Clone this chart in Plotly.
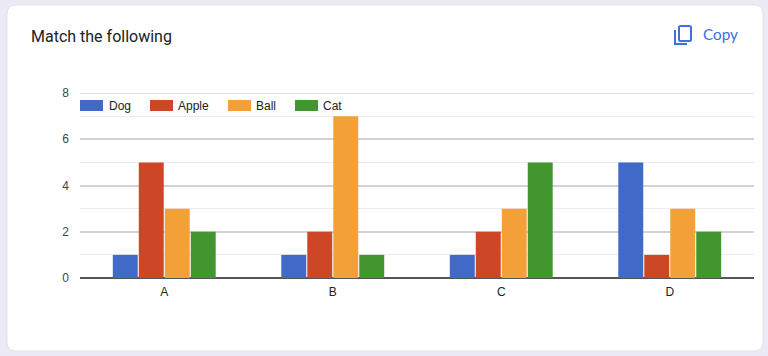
import plotly.graph_objects as go

categories = ["A", "B", "C", "D"]
dog = [1, 1, 1, 5]
apple = [5, 2, 2, 1]
ball = [3, 7, 3, 3]
cat = [2, 1, 5, 2]
names = ["Dog", "Apple", "Ball", "Cat"]
colors = ["#4169C8", "#CD4727", "#F3A038", "#43962F"]
y_ticks = [0, 2, 4, 6, 8]

W, H = 768, 356
L, R, T, B = 80, 754, 93, 278


def px(x):
    return (x - L) / (R - L)


def py(y):
    return (B - y) / (B - T)


def rounded(x0, y0, x1, y1, r):
    p = [
        (x0 + r, y0), (x1 - r, y0), (x1, y0, x1, y0 + r),
        (x1, y1 - r), (x1, y1, x1 - r, y1), (x0 + r, y1),
        (x0, y1, x0, y1 - r), (x0, y0 + r), (x0, y0, x0 + r, y0),
    ]
    s = f"M{px(p[0][0])},{py(p[0][1])}"
    for q in p[1:]:
        if len(q) == 2:
            s += f" L{px(q[0])},{py(q[1])}"
        else:
            s += f" Q{px(q[0])},{py(q[1])} {px(q[2])},{py(q[3])}"
    return s + " Z"


fig = go.Figure()
for name, vals, col in zip(names, [dog, apple, ball, cat], colors):
    fig.add_bar(name=name, x=categories, y=vals, marker=dict(color=col, line=dict(width=0)))

shapes = [
    dict(type="path", xref="paper", yref="paper", layer="below", path=rounded(7, 5, 763, 351, 9),
         fillcolor="#FFFFFF", line=dict(color="#E3E1EE", width=1)),
    # top gridline, which the axis clips at the end of its range
    dict(type="line", xref="paper", yref="y", layer="below", x0=0, x1=1, y0=y_ticks[-1], y1=y_ticks[-1],
         line=dict(color="#D2D2D2", width=1.5)),
    # copy icon
    dict(type="path", xref="paper", yref="paper", layer="above", path=rounded(679, 26, 691, 41, 1.5),
         fillcolor="rgba(0,0,0,0)", line=dict(color="#3F6FE0", width=2)),
    dict(type="path", xref="paper", yref="paper", layer="above",
         path=f"M{px(675)},{py(30)} L{px(675)},{py(44)} L{px(687)},{py(44)}",
         line=dict(color="#3F6FE0", width=2)),
]
annotations = [
    dict(text="Match the following", x=px(29), y=py(36), xref="paper", yref="paper", xanchor="left",
         yanchor="middle", showarrow=False, font=dict(family="Roboto", size=16, color="#202124")),
    dict(text="Copy", x=px(701), y=py(34), xref="paper", yref="paper", xanchor="left", yanchor="middle",
         showarrow=False, font=dict(family="Lato", size=15.3, color="#3F6FE0")),
]

swatch_x = [80, 150, 228, 295]
text_x = [107, 176, 254, 321]
for name, col, sx, tx in zip(names, colors, swatch_x, text_x):
    shapes.append(dict(type="rect", xref="paper", yref="paper", x0=px(sx), x1=px(sx + 23),
                       y0=py(111), y1=py(100), fillcolor=col, line=dict(width=0)))
    annotations.append(dict(text=name, x=px(tx), y=py(106), xref="paper", yref="paper", xanchor="left",
                            yanchor="middle", showarrow=False,
                            font=dict(family="Liberation Sans", size=12, color="#222222")))

fig.update_layout(
    width=W, height=H, autosize=False,
    margin=dict(l=L, r=W - R, t=T, b=H - B, pad=0),
    paper_bgcolor="#ECEAF6", plot_bgcolor="rgba(0,0,0,0)",
    barmode="group", bargap=0.383, bargroupgap=0.04,
    showlegend=False, shapes=shapes, annotations=annotations,
    font=dict(family="Liberation Sans", size=12, color="#444444"),
    xaxis=dict(showgrid=False, ticks="", showline=False, ticklabelstandoff=5,
               tickfont=dict(size=12, color="#222222")),
    yaxis=dict(range=[0, 8], tickvals=y_ticks, gridcolor="#D2D2D2", gridwidth=1.5,
               minor=dict(dtick=1, showgrid=True, gridcolor="#EBEBEB", gridwidth=1, ticks=""),
               zeroline=True, zerolinecolor="#555555", zerolinewidth=1.5, ticks="", showline=False,
               ticklabelstandoff=10, tickfont=dict(size=12, color="#444444")),
)
fig.write_html("out.html", config=dict(displayModeBar=False),
               post_script="document.body.style.margin='0';document.body.style.background='#ECEAF6';")
